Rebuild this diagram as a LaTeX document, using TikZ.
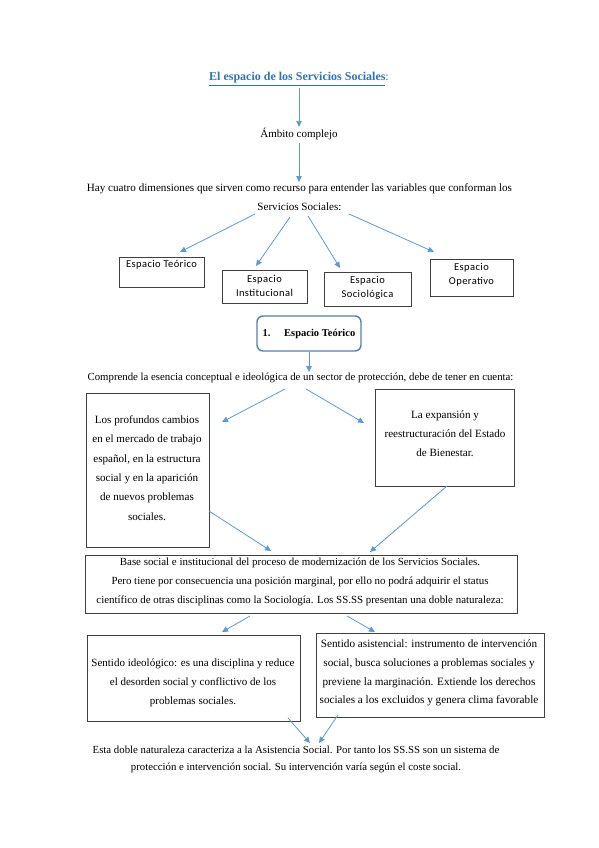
\documentclass[tikz,border=0pt]{standalone}
\usepackage{fontspec}
\setmainfont{Liberation Serif}
\newfontfamily\boxfont[LetterSpace=4]{Carlito}
\usetikzlibrary{arrows.meta}
\definecolor{arr}{RGB}{91,155,213}
\definecolor{ttl}{RGB}{46,117,182}
\definecolor{rbord}{RGB}{84,130,175}
\begin{document}
\begin{tikzpicture}[x=1pt,y=-1pt,
  font=\fontsize{11}{19}\selectfont,
  conn/.style={draw=arr, line width=0.8pt, -{Triangle[length=6pt,width=5.5pt]}},
  frame/.style={draw=black!75, line width=0.9pt, inner sep=0pt},
  txt/.style={inner sep=0pt, align=center},
  sbox/.style={txt, font=\boxfont\fontsize{10.5}{14}\selectfont}]
\useasboundingbox[fill=white] (0,0) rectangle (599,848);

% title and top chain
\node[txt, text=ttl, font=\fontsize{12}{14}\selectfont] (title) at (299,79) {\underline{\textbf{El espacio de los Servicios Sociales}}:};
\node[txt] (ambito) at (299,134) {Ámbito complejo};
\node[txt, font=\fontsize{11.1}{19}\selectfont] (hay) at (299.5,197.5) {Hay cuatro dimensiones que sirven como recurso para entender las variables que conforman los\\Servicios Sociales:};
\draw[conn, shorten >=1pt] (title.south) ++(0,2) -- (ambito.north);
\coordinate (a2e) at (299,182);
\draw[conn] (ambito.south) ++(0,3) -- (a2e);

% four small boxes
\node[frame, minimum width=85pt, minimum height=30pt] (teo) at (161.5,272.5) {};
\node[sbox] (teot) at (161.5,265) {Espacio Teórico};
\node[frame, minimum width=85pt, minimum height=33pt] (ins) at (264.5,286.5) {};
\node[sbox] (inst) at (264.5,286) {Espacio\\Institucional};
\node[frame, minimum width=87pt, minimum height=34pt] (soc) at (367.5,289) {};
\node[sbox] (soct) at (367.5,287.5) {Espacio\\Sociológica};
\node[frame, minimum width=83pt, minimum height=37pt] (ope) at (471.5,277.5) {};
\node[sbox] (opet) at (471.5,274.5) {Espacio\\Operativo};

\coordinate (b1s) at (255,214); \coordinate (b1e) at (180,252);
\coordinate (b2s) at (290,217); \coordinate (b2e) at (256,266);
\coordinate (b3s) at (308,216); \coordinate (b3e) at (340,268);
\coordinate (b4s) at (349,214); \coordinate (b4e) at (434,252);
\draw[conn] (b1s) -- (b1e);
\draw[conn] (b2s) -- (b2e);
\draw[conn] (b3s) -- (b3e);
\draw[conn] (b4s) -- (b4e);

% rounded box
\node[draw=rbord, line width=1.4pt, rounded corners=6pt, minimum width=104pt, minimum height=35pt, inner sep=0pt, font=\bfseries\fontsize{10.5}{19}\selectfont] (et) at (309,333.5) {1.\hspace{1.3em}Espacio Teórico};
\node[txt, font=\fontsize{10.8}{19}\selectfont] (comp) at (300.5,378) {Comprende la esencia conceptual e ideológica de un sector de protección, debe de tener en cuenta:};
\coordinate (c0e) at (309,372);
\draw[conn] (et.south) -- (c0e);

% two boxes
\node[frame, minimum width=123pt, minimum height=154pt] (lb) at (147.5,470) {};
\node[txt, font=\fontsize{11.1}{19.3}\selectfont] (lbt) at (147,468) {Los profundos cambios\\en el mercado de trabajo\\español, en la estructura\\social y en la aparición\\de nuevos problemas\\sociales.};
\node[frame, minimum width=139pt, minimum height=97pt] (rb) at (444.5,437.5) {};
\node[txt, font=\fontsize{11.1}{19}\selectfont] (rbt) at (445,434) {La expansión y\\reestructuración del Estado\\de Bienestar.};

\coordinate (c1s) at (285,389); \coordinate (c1e) at (222,422);
\coordinate (c2s) at (306,389); \coordinate (c2e) at (364,423);
\draw[conn] (c1s) -- (c1e);
\draw[conn] (c2s) -- (c2e);

% base box
\node[frame, minimum width=432pt, minimum height=58pt] (base) at (301,584) {};
\node[txt, font=\fontsize{10.9}{19}\selectfont] (baset) at (300,582) {Base social e institucional del proceso de modernización de los Servicios Sociales.\\Pero tiene por consecuencia una posición marginal, por ello no podrá adquirir el status\\científico de otras disciplinas como la Sociología. Los SS.SS presentan una doble naturaleza:};
\coordinate (d1s) at (209,511); \coordinate (d1e) at (271,551);
\coordinate (d2s) at (447,486); \coordinate (d2e) at (370,552);
\draw[conn] (d1s) -- (d1e);
\draw[conn] (d2s) -- (d2e);

% lower boxes
\node[frame, minimum width=213pt, minimum height=86pt] (ll) at (193.5,678) {};
\node[txt, font=\fontsize{11}{18.7}\selectfont] (llt) at (193,683) {Sentido ideológico: es una disciplina y reduce\\el desorden social y conflictivo de los\\problemas sociales.};
\node[frame, minimum width=228pt, minimum height=84pt] (lr) at (430,675) {};
\node[txt, font=\fontsize{11.2}{18.7}\selectfont] (lrt) at (429,673) {Sentido asistencial: instrumento de intervención\\social, busca soluciones a problemas sociales y\\previene la marginación. Extiende los derechos\\sociales a los excluidos y genera clima favorable};
\coordinate (e1s) at (250,616); \coordinate (e1e) at (222,632);
\coordinate (e2s) at (347,616); \coordinate (e2e) at (375,632);
\draw[conn] (e1s) -- (e1e);
\draw[conn] (e2s) -- (e2e);

% bottom
\node[txt, font=\fontsize{10.8}{17}\selectfont] (fin) at (296,759.5) {Esta doble naturaleza caracteriza a la Asistencia Social. Por tanto los SS.SS son un sistema de\\protección e intervención social. Su intervención varía según el coste social.};
\coordinate (f1s) at (288,718); \coordinate (f1e) at (310,743);
\coordinate (f2s) at (338,715); \coordinate (f2e) at (319,743);
\draw[conn] (f1s) -- (f1e);
\draw[conn] (f2s) -- (f2e);
\end{tikzpicture}
\end{document}
